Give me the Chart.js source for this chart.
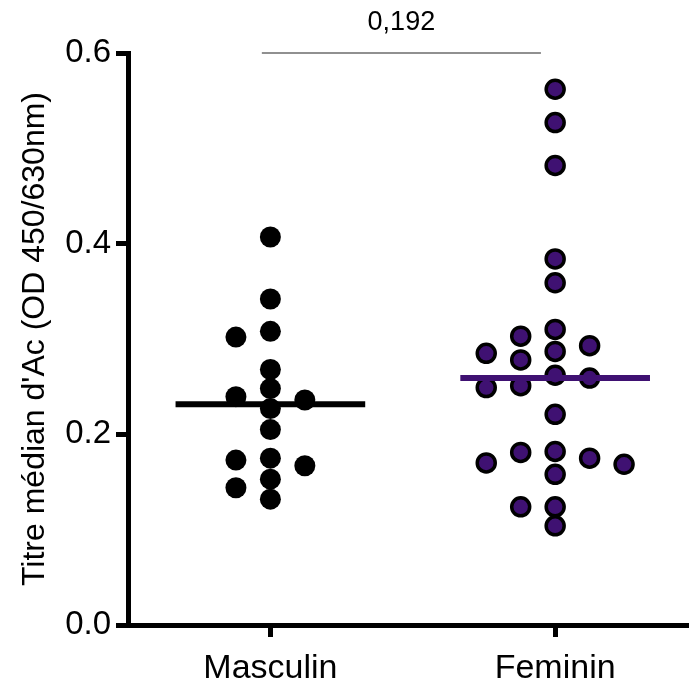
<!DOCTYPE html>
<html>
<head>
<meta charset="utf-8">
<script src="https://cdn.jsdelivr.net/npm/chart.js@4.4.1/dist/chart.umd.min.js"></script>
<style>
  html, body { margin: 0; padding: 0; background: #fff; overflow: hidden; }
  #wrap { width: 689px; height: 688px; }
  canvas { display: block; }
</style>
</head>
<body>
<div id="wrap"><canvas id="dotChart" width="689" height="688"></canvas></div>
<script>
// groups shown on the x axis
const categories = ["Masculin", "Feminin"];

// titre median per subject
const masculinValues = [
  0.407, 0.342, 0.308, 0.302, 0.268, 0.248, 0.2395, 0.236,
  0.227, 0.205, 0.175, 0.173, 0.167, 0.153, 0.144, 0.132,
];
const femininValues = [
  0.562, 0.527, 0.482, 0.384, 0.359, 0.31, 0.303, 0.293, 0.287,
  0.285, 0.278, 0.262, 0.259, 0.251, 0.249, 0.221, 0.182, 0.181,
  0.175, 0.17, 0.1686, 0.158, 0.124, 0.124, 0.104,
];

const yTicks = [0, 0.2, 0.4, 0.6];
const pValueLabel = "0,192";
const bracketSpan = [0.97, 1.95];
const bracketLevel = 0.6;

const purple = "#3f1172";
const FONT = "'Liberation Sans', Arial, Helvetica, sans-serif";

function median(arr) {
  const s = [...arr].sort((a, b) => a - b);
  const m = Math.floor(s.length / 2);
  return s.length % 2 ? s[m] : (s[m - 1] + s[m]) / 2;
}

// simple column beeswarm: slide a dot sideways until it no longer
// overlaps a dot already placed in the same column
function swarm(values, center) {
  const step = 0.121, gap = 0.0199;
  const order = values.map((v, i) => i).sort((a, b) => values[b] - values[a]);
  const placed = [];
  const out = [];
  order.forEach((i) => {
    const v = values[i];
    for (const k of [0, -1, 1, -2, 2, -3, 3, -4, 4]) {
      const hit = placed.some((p) => p.k === k && Math.abs(p.v - v) < gap);
      if (!hit) {
        placed.push({ k, v });
        out.push({ x: center + k * step, y: v });
        break;
      }
    }
  });
  return out;
}

function medianLine(values, center) {
  const m = median(values);
  return [
    { x: center - 0.333, y: m },
    { x: center + 0.333, y: m },
  ];
}

const pLabelPlugin = {
  id: "pLabel",
  afterDatasetsDraw(chart) {
    const { ctx, scales } = chart;
    const x = scales.x.getPixelForValue((bracketSpan[0] + bracketSpan[1]) / 2);
    const y = scales.y.getPixelForValue(bracketLevel);
    ctx.save();
    ctx.fillStyle = "#000";
    ctx.font = "27px " + FONT;
    ctx.textAlign = "center";
    ctx.textBaseline = "middle";
    ctx.fillText(pValueLabel, x, y - 30);
    ctx.restore();
  },
};

new Chart(document.getElementById("dotChart"), {
  type: "scatter",
  data: {
    datasets: [
      {
        type: "line",
        data: medianLine(masculinValues, 1),
        borderColor: "#000",
        borderWidth: 6,
        pointRadius: 0,
        borderCapStyle: "butt",
        order: 0,
      },
      {
        type: "line",
        data: medianLine(femininValues, 2),
        borderColor: purple,
        borderWidth: 6,
        pointRadius: 0,
        borderCapStyle: "butt",
        order: 0,
      },
      {
        type: "line",
        data: [
          { x: bracketSpan[0], y: bracketLevel },
          { x: bracketSpan[1], y: bracketLevel },
        ],
        borderColor: "#6b6b6b",
        borderWidth: 1.5,
        pointRadius: 0,
        clip: false,
        order: 0,
      },
      {
        data: swarm(masculinValues, 1),
        backgroundColor: "#000",
        borderColor: "#000",
        borderWidth: 0,
        pointRadius: 10.5,
        order: 1,
      },
      {
        data: swarm(femininValues, 2),
        backgroundColor: purple,
        borderColor: "#000",
        borderWidth: 3.5,
        pointRadius: 9,
        order: 1,
      },
    ],
  },
  options: {
    responsive: false,
    animation: false,
    layout: {
      autoPadding: false,
      padding: { top: 53, right: 0, left: 0, bottom: 0 },
    },
    plugins: {
      legend: { display: false },
      tooltip: { enabled: false },
    },
    scales: {
      x: {
        type: "linear",
        min: 0.5,
        max: 2.47,
        afterBuildTicks: (axis) => {
          axis.ticks = categories.map((c, i) => ({ value: i + 1 }));
        },
        afterFit: (axis) => {
          axis.height = 63;
          axis.paddingLeft = 0;
          axis.paddingRight = 0;
        },
        border: { color: "#000", width: 5 },
        grid: {
          drawOnChartArea: false,
          color: "#000",
          lineWidth: 5,
          tickLength: 12,
        },
        ticks: {
          color: "#000",
          padding: 11,
          font: { family: FONT, size: 34 },
          callback: (v) => categories[v - 1] || "",
        },
      },
      y: {
        min: 0,
        max: 0.6,
        afterBuildTicks: (axis) => {
          axis.ticks = yTicks.map((v) => ({ value: v }));
        },
        afterFit: (axis) => { axis.width = 128; },
        border: { color: "#000", width: 5 },
        grid: {
          drawOnChartArea: false,
          color: "#000",
          lineWidth: 5,
          tickLength: 12,
        },
        ticks: {
          color: "#000",
          padding: 5,
          font: { family: FONT, size: 33 },
          callback: (v) => v.toFixed(1),
        },
        title: {
          display: true,
          text: "Titre médian d'Ac (OD 450/630nm)",
          color: "#000",
          padding: { top: 16, bottom: 0 },
          font: { family: FONT, size: 32 },
        },
      },
    },
  },
  plugins: [pLabelPlugin],
});
</script>
</body>
</html>
